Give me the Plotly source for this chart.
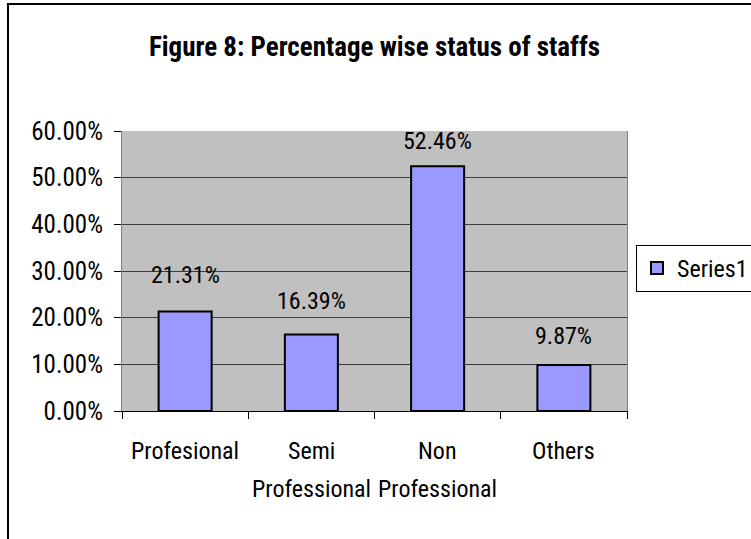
import plotly.graph_objects as go

# Staff status shares (percent)
categories = ["Profesional", "Semi Professional", "Non Professional", "Others"]
label_line1 = ["Profesional", "Semi", "Non", "Others"]
label_line2 = ["", "Professional", "Professional", ""]
values = [21.31, 16.39, 52.46, 9.87]
series_name = "Series1"
y_ticks = [0, 10, 20, 30, 40, 50, 60]

# pixel offset of each value label above its bar
label_offsets = [37, 34, 25, 29]

FONT = "Roboto Condensed, Liberation Sans Narrow, Arial Narrow, sans-serif"
TXT = 24


def font(size):
    return dict(family=FONT, size=size, color="#000000")


fig = go.Figure()
fig.add_trace(go.Bar(
    x=categories,
    y=values,
    name=series_name,
    marker=dict(color="#9999FF", line=dict(color="#000000", width=2)),
    showlegend=True,
))

annotations = []
# value labels above the bars
for c, v, off in zip(categories, values, label_offsets):
    annotations.append(dict(
        x=c, y=v, xref="x", yref="y", text=f"{v:.2f}%",
        showarrow=False, yanchor="middle", yshift=off, font=font(TXT),
    ))
# two-line category labels under the axis
for c, l1, l2 in zip(categories, label_line1, label_line2):
    annotations.append(dict(
        x=c, y=0, xref="x", yref="paper", text=l1, showarrow=False,
        yanchor="middle", yshift=-40, font=font(TXT),
    ))
    if l2:
        annotations.append(dict(
            x=c, y=0, xref="x", yref="paper", text=l2, showarrow=False,
            yanchor="middle", yshift=-78, font=font(TXT),
        ))

fig.update_layout(
    width=751, height=539,
    margin=dict(l=122, r=124, t=131, b=128, autoexpand=False),
    paper_bgcolor="#FFFFFF",
    plot_bgcolor="#C0C0C0",
    title=dict(
        text="<b>Figure 8: Percentage wise status of staffs</b>",
        x=0.5, xref="paper", xanchor="center",
        y=1 - 47 / 539, yref="container", yanchor="middle",
        font=font(27),
    ),
    bargap=0.58,
    annotations=annotations,
    legend=dict(
        x=(636 - 122) / 505, y=(411 - 245) / 280,
        xanchor="left", yanchor="top",
        bordercolor="#000000", borderwidth=1,
        bgcolor="#FFFFFF",
        font=font(TXT),
        itemwidth=30,
    ),
    shapes=[dict(
        type="rect", xref="paper", yref="paper",
        x0=(8 - 122) / 505, x1=(760 - 122) / 505,
        y0=(411 - 560) / 280, y1=(411 - 4) / 280,
        line=dict(color="#000000", width=2), layer="below",
    )],
)

fig.update_xaxes(
    showticklabels=False,
    ticks="outside", tickson="boundaries", ticklen=7, tickcolor="#000000",
    showline=True, linecolor="#000000", linewidth=1,
    showgrid=False,
)
fig.update_yaxes(
    range=[0, 60], tickvals=y_ticks,
    ticktext=[f"{t:.2f}%" for t in y_ticks],
    ticks="outside", ticklen=7, tickcolor="#000000",
    ticklabelstandoff=6,
    showline=True, linecolor="#808080", linewidth=1, mirror=True,
    showgrid=True, gridcolor="#3C3C3C", gridwidth=1,
    zeroline=False,
    tickfont=font(25),
)

fig.write_html("out.html")
